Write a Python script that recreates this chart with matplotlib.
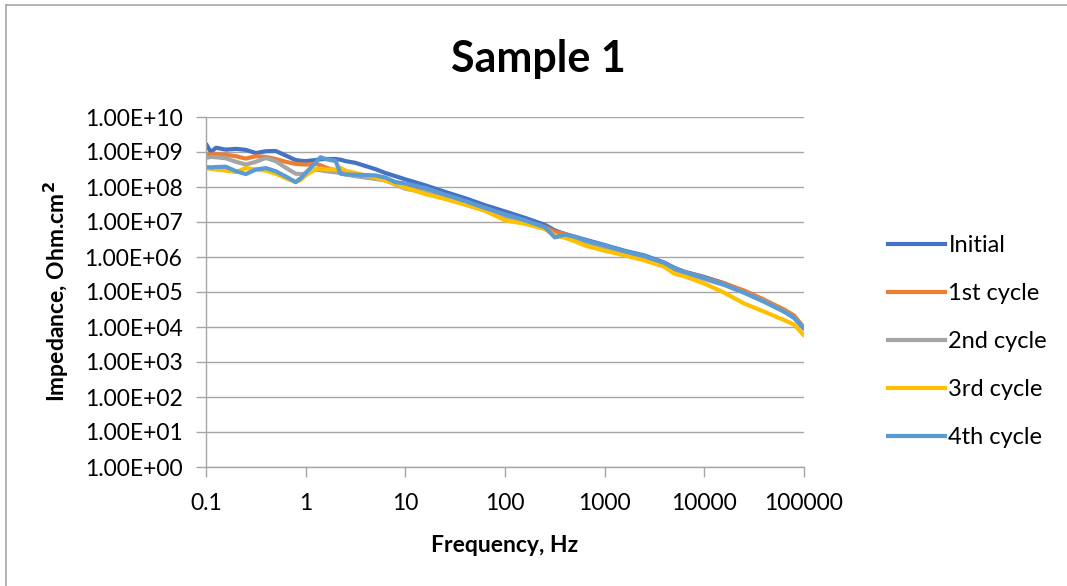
import matplotlib
matplotlib.use("Agg")
import matplotlib.pyplot as plt
from matplotlib.lines import Line2D
from matplotlib.ticker import FixedLocator, FixedFormatter, NullLocator

plt.rcParams['font.family'] = ['Lato', 'DejaVu Sans']

title = "Sample 1"
x_label = "Frequency, Hz"
y_label = "Impedance, Ohm.cm$^{\\mathbf{2}}$"
series_names = ["Initial", "1st cycle", "2nd cycle", "3rd cycle", "4th cycle"]
colors = ["#4472C4", "#ED7D31", "#A5A5A5", "#FFC000", "#5B9BD5"]

frequency = [0.1, 0.112, 0.126, 0.158, 0.2, 0.251, 0.316, 0.398, 0.501, 0.631,
             0.794, 0.891, 1.0, 1.26, 1.41, 1.58, 2.0, 2.24, 2.51, 3.16,
             3.98, 5.01, 6.31, 7.94, 10, 15.8, 25.1, 39.8, 63.1, 100,
             158, 251, 316, 398, 501, 631, 1000, 1585, 2512, 3981,
             5012, 6310, 10000, 15849, 25119, 39811, 63096, 79433, 100000]

initial = [1.70e9, 1.00e9, 1.32e9, 1.17e9, 1.23e9, 1.15e9, 9.33e8, 1.05e9, 1.07e9, 7.94e8,
           5.89e8, 5.62e8, 5.50e8, 5.89e8, 6.17e8, 6.31e8, 6.31e8, 6.03e8, 5.50e8, 4.90e8,
           3.98e8, 3.24e8, 2.51e8, 2.04e8, 1.66e8, 1.12e8, 7.24e7, 4.79e7, 3.02e7, 2.00e7,
           1.32e7, 8.32e6, 5.75e6, 4.57e6, 3.80e6, 3.16e6, 2.19e6, 1.51e6, 1.10e6, 6.92e5,
           4.90e5, 3.80e5, 2.69e5, 1.78e5, 1.05e5, 5.62e4, 2.82e4, 1.91e4, 9.55e3]

cycle1 = [8.71e8, 8.51e8, 8.71e8, 8.32e8, 7.59e8, 6.46e8, 7.59e8, 7.24e8, 6.31e8, 5.25e8,
          4.57e8, 4.47e8, 4.37e8, 4.57e8, 4.17e8, 3.63e8, 2.95e8, 2.69e8, 2.51e8, 2.24e8,
          2.09e8, 1.95e8, 1.74e8, 1.35e8, 1.12e8, 8.91e7, 5.89e7, 3.80e7, 2.51e7, 1.58e7,
          1.05e7, 7.24e6, 5.25e6, 4.57e6, 3.63e6, 2.82e6, 2.00e6, 1.38e6, 1.00e6, 6.61e5,
          4.57e5, 3.72e5, 2.57e5, 1.74e5, 1.10e5, 6.03e4, 3.16e4, 2.14e4, 9.55e3]

cycle2 = [6.76e8, 7.24e8, 7.08e8, 6.61e8, 5.25e8, 4.37e8, 5.25e8, 6.76e8, 5.50e8, 3.55e8,
          2.40e8, 2.34e8, 2.40e8, 3.16e8, 3.02e8, 2.82e8, 2.63e8, 2.51e8, 2.29e8, 2.04e8,
          1.86e8, 1.70e8, 1.55e8, 1.17e8, 8.91e7, 7.08e7, 4.68e7, 3.16e7, 2.14e7, 1.32e7,
          9.33e6, 6.76e6, 3.98e6, 3.80e6, 3.16e6, 2.51e6, 1.78e6, 1.26e6, 9.12e5, 6.17e5,
          4.27e5, 3.39e5, 2.34e5, 1.58e5, 9.55e4, 5.37e4, 2.82e4, 1.86e4, 8.71e3]

cycle3 = [3.47e8, 3.31e8, 3.16e8, 2.95e8, 2.69e8, 3.47e8, 3.16e8, 2.95e8, 2.40e8, 1.78e8,
          1.38e8, 1.58e8, 2.14e8, 3.31e8, 3.31e8, 3.16e8, 3.16e8, 3.47e8, 2.95e8, 2.51e8,
          2.14e8, 1.86e8, 1.51e8, 1.23e8, 9.55e7, 6.31e7, 4.57e7, 3.16e7, 2.09e7, 1.12e7,
          8.91e6, 6.31e6, 4.17e6, 3.55e6, 2.82e6, 2.14e6, 1.51e6, 1.12e6, 7.94e5, 5.25e5,
          3.31e5, 2.82e5, 1.74e5, 9.55e4, 4.68e4, 2.75e4, 1.58e4, 1.17e4, 5.75e3]

cycle4 = [3.72e8, 3.63e8, 3.72e8, 3.80e8, 2.82e8, 2.34e8, 3.16e8, 3.47e8, 2.82e8, 2.00e8,
          1.38e8, 1.78e8, 2.51e8, 5.01e8, 7.08e8, 6.31e8, 5.50e8, 2.40e8, 2.29e8, 2.24e8,
          2.19e8, 2.14e8, 1.86e8, 1.38e8, 1.26e8, 9.33e7, 6.03e7, 3.98e7, 2.51e7, 1.66e7,
          1.12e7, 7.08e6, 3.63e6, 4.37e6, 3.80e6, 3.02e6, 2.14e6, 1.45e6, 1.05e6, 6.76e5,
          4.68e5, 3.72e5, 2.51e5, 1.62e5, 9.55e4, 5.25e4, 2.75e4, 1.82e4, 9.12e3]

x_ticks = [0.1, 1, 10, 100, 1000, 10000, 100000]
x_tick_labels = ["0.1", "1", "10", "100", "1000", "10000", "100000"]
y_ticks = [1e0, 1e1, 1e2, 1e3, 1e4, 1e5, 1e6, 1e7, 1e8, 1e9, 1e10]
y_tick_labels = ["1.00E+00", "1.00E+01", "1.00E+02", "1.00E+03", "1.00E+04", "1.00E+05",
                 "1.00E+06", "1.00E+07", "1.00E+08", "1.00E+09", "1.00E+10"]

W, H = 1067, 586
fig = plt.figure(figsize=(W / 100, H / 100), dpi=100)
ax = fig.add_axes([206 / W, 1 - 467 / H, (804 - 206) / W, (467 - 117) / H])

all_series = [initial, cycle1, cycle2, cycle3, cycle4]
for name, vals, c in zip(series_names, all_series, colors):
    ax.plot(frequency, vals, color=c, lw=3.0, label=name, solid_joinstyle='round',
            solid_capstyle='round')

ax.set_xscale('log')
ax.set_yscale('log')
ax.set_xlim(0.1, 100000)
ax.set_ylim(1e0, 1e10)

ax.xaxis.set_major_locator(FixedLocator(x_ticks))
ax.xaxis.set_major_formatter(FixedFormatter(x_tick_labels))
ax.xaxis.set_minor_locator(NullLocator())
ax.yaxis.set_major_locator(FixedLocator(y_ticks))
ax.yaxis.set_major_formatter(FixedFormatter(y_tick_labels))
ax.yaxis.set_minor_locator(NullLocator())

ax.grid(axis='y', color='#A6A6A6', lw=1.0)
ax.set_axisbelow(True)
for s in ['top', 'right']:
    ax.spines[s].set_visible(False)
for s in ['left', 'bottom']:
    ax.spines[s].set_color('#A6A6A6')
    ax.spines[s].set_linewidth(1.0)
ax.tick_params(axis='both', which='major', length=7, width=1.0, color='#A6A6A6',
               labelsize=16.5, labelcolor='black', direction='out')
ax.tick_params(axis='x', pad=12)
ax.tick_params(axis='y', pad=10)

ax.set_xlabel(x_label, fontsize=16.5, fontweight='bold', labelpad=15)
ax.set_ylabel(y_label, fontsize=16.5, fontweight='bold', labelpad=10)
fig.text(538 / W, 1 - 59 / H, title, fontsize=31, fontweight='bold', ha='center', va='center')

handles = [Line2D([0], [0], color=c, lw=3.0) for c in colors]
leg = fig.legend(handles, series_names, loc='upper left',
                 bbox_to_anchor=(867 / W, 1 - 214 / H), frameon=False,
                 fontsize=17, handlelength=2.4, handletextpad=0.15, labelspacing=1.14)

# outer chart border
fig.add_artist(Line2D([6 / W, 1.0], [1 - 5 / H, 1 - 5 / H], color='#A6A6A6', lw=1.2,
                      transform=fig.transFigure))
fig.add_artist(Line2D([6 / W, 6 / W], [0.0, 1 - 5 / H], color='#A6A6A6', lw=1.2,
                      transform=fig.transFigure))

fig.savefig("out.png", dpi=100)
